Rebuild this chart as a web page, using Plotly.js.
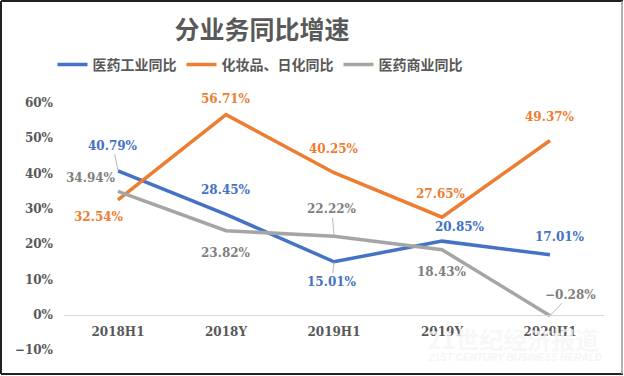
<!DOCTYPE html>
<html>
<head>
<meta charset="utf-8">
<script src="https://cdn.plot.ly/plotly-3.0.1.min.js"></script>
<style>
html,body{margin:0;padding:0;background:#fff;}
#chart{width:624px;height:376px;}
</style>
</head>
<body>
<div id="chart"></div>
<script>
// ---- data ----
var categories = ['2018H1', '2018Y', '2019H1', '2019Y', '2020H1'];
var seriesNames = ['医药工业同比', '化妆品、日化同比', '医药商业同比'];
var pharmaIndustry = [40.79, 28.45, 15.01, 20.85, 17.01];
var cosmetics = [32.54, 56.71, 40.25, 27.65, 49.37];
var pharmaCommerce = [34.94, 23.82, 22.22, 18.43, -0.28];
var chartTitle = '分业务同比增速';

// ---- styles / label placement (pixels offsets from the point) ----
var colors = ['#4472C4', '#ED7D31', '#A5A5A5'];
var labelColors = ['#4472C4', '#ED7D31', '#7F7F7F'];
var labelOffsets = [
  [[-5, -25], [0, -24], [-2, 20], [18, -14], [10, -18]],
  [[-19, 17], [0, -16], [0, -24], [-1, -23], [0, -24]],
  [[-27, -13], [0, 22], [-2, -27], [0, 22], [20, -21]]
];
var leaderLines = [
  [true, false, true, false, false],
  [false, false, false, false, false],
  [false, false, true, false, true]
];

var allSeries = [pharmaIndustry, cosmetics, pharmaCommerce];
var serifBold = 'DejaVu Serif';
var cjk = '"Noto Sans CJK SC", "Noto Sans", sans-serif';

var traces = allSeries.map(function (vals, s) {
  return {
    type: 'scatter',
    mode: 'lines',
    name: seriesNames[s],
    x: categories,
    y: vals.map(function (v) { return v / 100; }),
    line: {color: colors[s], width: 3.5},
    hoverinfo: 'skip'
  };
});

var annotations = [];
allSeries.forEach(function (vals, s) {
  vals.forEach(function (v, i) {
    annotations.push({
      x: categories[i], y: v / 100, xref: 'x', yref: 'y',
      text: (v < 0 ? '\u2212' + Math.abs(v).toFixed(2) : v.toFixed(2)) + '%',
      showarrow: true,
      arrowhead: 0, arrowwidth: 0.8,
      arrowcolor: leaderLines[s][i] ? '#A6A6A6' : 'rgba(0,0,0,0)',
      ax: labelOffsets[s][i][0], ay: labelOffsets[s][i][1],
      standoff: 0, startstandoff: 0,
      font: {family: serifBold, size: 12, color: labelColors[s], weight: 'bold'}
    });
  });
});

// watermark (faint, as in the reference)
annotations.push({
  xref: 'paper', yref: 'paper', x: (513 - 64) / 540, y: (350 - 338) / 247,
  text: '21世纪经济报道', showarrow: false, xanchor: 'center', yanchor: 'middle',
  font: {family: cjk, size: 24, color: 'rgba(246,246,246,0.8)', weight: 'bold'}
});
annotations.push({
  xref: 'paper', yref: 'paper', x: (515 - 64) / 540, y: (350 - 357) / 247,
  text: '<i>21ST CENTURY BUSINESS HERALD</i>', showarrow: false, xanchor: 'center', yanchor: 'middle',
  font: {family: 'Liberation Sans', size: 10, color: 'rgba(244,244,244,0.85)', weight: 'bold'}
});

function px2x(p) { return (p - 64) / 540; }
function px2y(p) { return (350 - p) / 247; }

var shapes = [
  {type: 'line', xref: 'paper', yref: 'paper', x0: px2x(1), x1: px2x(623), y0: px2y(1), y1: px2y(1), line: {color: '#222', width: 2}},
  {type: 'line', xref: 'paper', yref: 'paper', x0: px2x(1), x1: px2x(1), y0: px2y(1), y1: px2y(374), line: {color: '#222', width: 2}},
  {type: 'line', xref: 'paper', yref: 'paper', x0: px2x(1), x1: px2x(623), y0: px2y(374), y1: px2y(374), line: {color: '#222', width: 2}},
  {type: 'line', xref: 'paper', yref: 'paper', x0: px2x(622), x1: px2x(622), y0: px2y(1), y1: px2y(374), line: {color: '#999', width: 1.5}}
];

var layout = {
  width: 624, height: 376,
  margin: {l: 64, r: 20, t: 103, b: 26},
  paper_bgcolor: '#fff', plot_bgcolor: '#fff',
  showlegend: true,
  title: {
    text: chartTitle, x: 262 / 624, xanchor: 'center', y: 1 - 30 / 376, yanchor: 'middle',
    font: {family: cjk, size: 25, color: '#595959', weight: 'bold'}
  },
  legend: {
    orientation: 'h', x: px2x(260), xanchor: 'center', y: px2y(65), yanchor: 'middle',
    font: {family: cjk, size: 14, color: '#595959', weight: 'bold'},
    itemwidth: 30, tracegroupgap: 0, bgcolor: 'rgba(0,0,0,0)'
  },
  xaxis: {
    type: 'category', range: [-0.5, 4.5],
    anchor: 'free', position: 0.1 / 0.7,
    showline: true, linecolor: '#D9D9D9', linewidth: 1,
    showgrid: false, zeroline: false, ticks: '', ticklabelstandoff: 6,
    tickfont: {family: serifBold, size: 12, color: '#595959', weight: 'bold'},
    fixedrange: true
  },
  yaxis: {
    range: [-0.1, 0.6], dtick: 0.1, tick0: 0, tickformat: '.0%',
    showgrid: false, zeroline: false, showline: false, ticks: '',
    ticklabelstandoff: 10,
    tickfont: {family: serifBold, size: 12, color: '#595959', weight: 'bold'},
    fixedrange: true
  },
  annotations: annotations,
  shapes: shapes
};

Plotly.newPlot('chart', traces, layout, {displayModeBar: false, staticPlot: true});
</script>
</body>
</html>
